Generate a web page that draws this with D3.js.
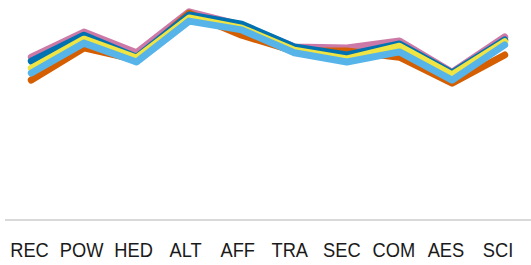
<!DOCTYPE html>
<html>
<head>
<meta charset="utf-8">
<script src="https://cdn.jsdelivr.net/npm/d3@7"></script>
<style>
  body { margin: 0; background: #fff; }
  svg { display: block; }
</style>
</head>
<body>
<div id="chart"></div>
<script>
// value categories along the x axis
const categories = ['REC', 'POW', 'HED', 'ALT', 'AFF', 'TRA', 'SEC', 'COM', 'AES', 'SCI']

// one array per group (mean score)
const pink      = [4.70, 5.27, 4.80, 5.73, 5.43, 4.93, 4.91, 5.07, 4.36, 5.16]
const orange    = [4.18, 4.91, 4.64, 5.70, 5.20, 4.84, 4.84, 4.70, 4.11, 4.75]
const darkBlue  = [4.61, 5.20, 4.70, 5.66, 5.45, 4.93, 4.75, 5.00, 4.34, 5.09]
const yellow    = [4.45, 5.11, 4.68, 5.59, 5.36, 4.86, 4.66, 4.95, 4.30, 5.05]
const lightBlue = [4.34, 5.02, 4.59, 5.52, 5.32, 4.80, 4.59, 4.82, 4.18, 4.98]

// draw order: first is at the bottom
const series = [
    {name: 'pink', values: pink, color: '#CC79A7'},
    {name: 'orange', values: orange, color: '#D55E00'},
    {name: 'darkBlue', values: darkBlue, color: '#0072B2'},
    {name: 'yellow', values: yellow, color: '#F0E442'},
    {name: 'lightBlue', values: lightBlue, color: '#56B4E9'}
]

const width = 531
const height = 265
const baseY = 220

const svg = d3.select('#chart')
    .append('svg').attr('width', width).attr('height', height)

// x scale for the lines
const x = d3.scaleBand()
    .domain(categories)
    .range([5, 531])

// labels sit on a slightly tighter band
const xLab = d3.scaleBand()
    .domain(categories)
    .range([3.5, 524])

const y = d3.scaleLinear()
    .domain([1, 6])
    .range([baseY, 0])

// baseline
svg.append('line')
    .attr('x1', 5).attr('x2', width)
    .attr('y1', baseY).attr('y2', baseY)
    .attr('stroke', '#d9d9d9')
    .attr('stroke-width', 2)

// x axis labels (narrow face is not installed, so squeeze them a bit)
svg.append('g')
    .attr('transform', `translate(0, ${baseY})`)
    .call(d3.axisBottom(xLab).tickSize(0).tickPadding(22))
    .call(g => g.select('.domain').remove())
    .selectAll('text')
    .attr('fill', '#1a1a1a')
    .attr('transform', 'scale(0.87, 1)')
    .style('font-family', '"Liberation Sans", Arial, sans-serif')
    .style('font-size', '21px')

const line = d3.line()
    .x((d, i) => x(categories[i]) + x.bandwidth() / 2)
    .y(d => y(d))

svg.selectAll('path.series')
    .data(series)
    .join('path')
    .attr('class', 'series')
    .attr('d', d => line(d.values))
    .attr('fill', 'none')
    .attr('stroke', d => d.color)
    .attr('stroke-width', 7)
    .attr('stroke-linejoin', 'round')
    .attr('stroke-linecap', 'round')
</script>
</body>
</html>
